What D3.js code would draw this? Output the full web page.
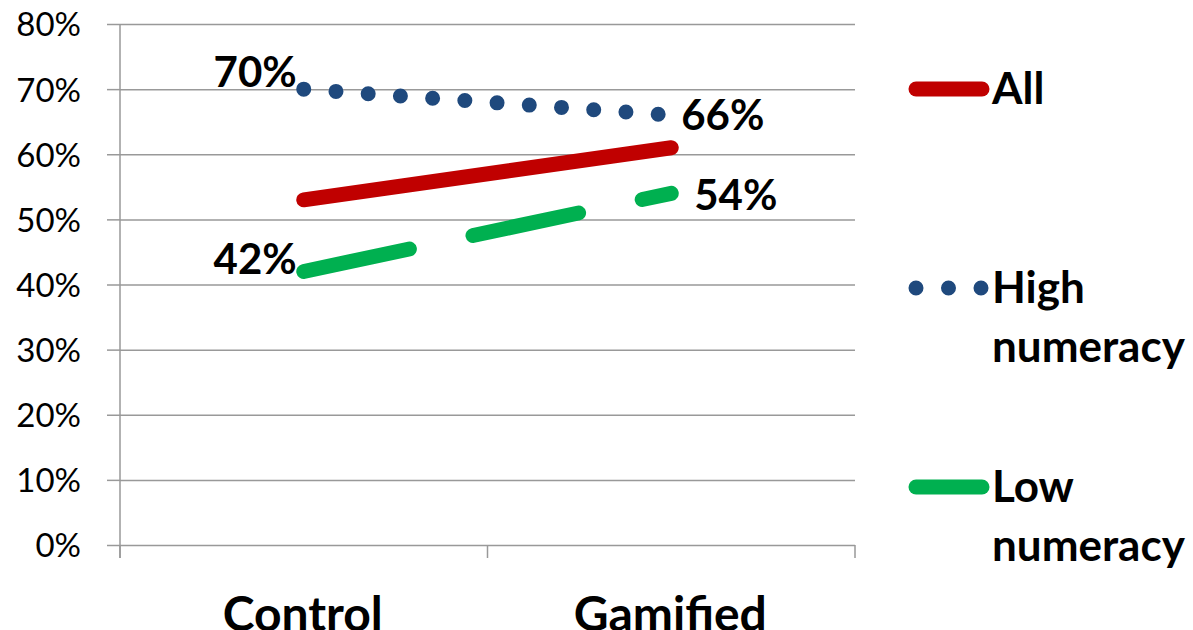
<!DOCTYPE html>
<html>
<head>
<meta charset="utf-8">
<script src="https://cdn.jsdelivr.net/npm/d3@7"></script>
<style>
  html, body { margin: 0; padding: 0; background: #fff; overflow: hidden; }
  svg { display: block; font-family: Lato, "Open Sans", sans-serif; }
</style>
</head>
<body>
<svg id="chart" width="1193" height="630"></svg>
<script>
// Share of correct answers by condition
const categories = ["Control", "Gamified"];
const seriesNames = ["All", "High numeracy", "Low numeracy"];
const allValues = [0.53, 0.61];
const highValues = [0.70, 0.66];
const lowValues = [0.42, 0.54];
const yTicks = [0, 0.1, 0.2, 0.3, 0.4, 0.5, 0.6, 0.7, 0.8];

const svg = d3.select("#chart");
const plotLeft = 120, plotRight = 855, plotTop = 24, plotBottom = 545;

const x = d3.scalePoint().domain(categories).range([plotLeft, plotRight]).padding(0.5);
const y = d3.scaleLinear().domain([0, 0.8]).range([plotBottom, plotTop]);
const pct = d3.format(".0%");
const gridColor = "#999";

// horizontal gridlines with outside tick marks
const yAxis = svg.append("g")
  .attr("transform", `translate(${plotLeft},0)`)
  .call(d3.axisLeft(y).tickValues(yTicks).tickFormat(pct)
        .tickSize(13).tickSizeOuter(0).tickPadding(26));
yAxis.select(".domain").remove();
yAxis.selectAll(".tick line").attr("stroke", gridColor).attr("stroke-width", 1.5);
yAxis.selectAll(".tick").append("line")
  .attr("x1", 0).attr("x2", plotRight - plotLeft)
  .attr("stroke", gridColor).attr("stroke-width", 1.5);
yAxis.selectAll(".tick text")
  .attr("font-family", "Lato, sans-serif")
  .attr("font-size", 33).attr("fill", "#000")
  .attr("dy", "0.36em");

// vertical axis line
svg.append("line")
  .attr("x1", plotLeft).attr("x2", plotLeft).attr("y1", plotTop).attr("y2", plotBottom + 13)
  .attr("stroke", gridColor).attr("stroke-width", 1.5);

// category axis: boundary ticks between bands
const band = d3.scaleBand().domain(categories).range([plotLeft, plotRight]);
const boundaries = [plotLeft, ...categories.slice(1).map(c => band(c)), plotRight];
svg.append("g").selectAll("line").data(boundaries).join("line")
  .attr("x1", d => d).attr("x2", d => d)
  .attr("y1", plotBottom).attr("y2", plotBottom + 13)
  .attr("stroke", gridColor).attr("stroke-width", 1.5);

svg.append("g").selectAll("text").data(categories).join("text")
  .attr("x", d => x(d) - 1).attr("y", 631)
  .attr("text-anchor", "middle")
  .attr("font-size", 48).attr("font-weight", "bold").attr("fill", "#000")
  .text(d => d);

// series lines
const line = d3.line().x((d, i) => x(categories[i])).y(d => y(d));
const styles = [
  { name: seriesNames[0], values: allValues, color: "#C00000", dash: null, legendDash: null },
  { name: seriesNames[1], values: highValues, color: "#1F497D", dash: "0 32.3", legendDash: "0 32.5" },
  { name: seriesNames[2], values: lowValues, color: "#00B050", dash: "108 65", legendDash: null }
];
svg.append("g").selectAll("path").data(styles).join("path")
  .attr("d", d => line(d.values))
  .attr("fill", "none")
  .attr("stroke", d => d.color)
  .attr("stroke-width", 15)
  .attr("stroke-linecap", "round")
  .attr("stroke-dasharray", d => d.dash);

// value labels on the high and low numeracy series
const labels = [
  { v: highValues[0], cat: categories[0], dx: -7, dy: -17, anchor: "end" },
  { v: highValues[1], cat: categories[1], dx: 10, dy: 0, anchor: "start" },
  { v: lowValues[0], cat: categories[0], dx: -7, dy: -13, anchor: "end" },
  { v: lowValues[1], cat: categories[1], dx: 23, dy: 2, anchor: "start" }
];
svg.append("g").selectAll("text").data(labels).join("text")
  .attr("x", d => x(d.cat) + d.dx)
  .attr("y", d => y(d.v) + d.dy)
  .attr("dy", "0.36em")
  .attr("text-anchor", d => d.anchor)
  .attr("font-size", 42).attr("font-weight", "bold").attr("fill", "#000")
  .text(d => pct(d.v));

// legend
const legendY = [89, 288, 487];
const lg = svg.append("g").selectAll("g").data(styles).join("g")
  .attr("transform", (d, i) => `translate(916,${legendY[i]})`);
lg.append("line")
  .attr("x1", 0).attr("x2", 66)
  .attr("stroke", d => d.color).attr("stroke-width", 15)
  .attr("stroke-linecap", "round")
  .attr("stroke-dasharray", d => d.legendDash);
lg.append("text")
  .attr("x", 76).attr("y", 15)
  .attr("font-size", 44).attr("font-weight", "bold").attr("fill", "#000")
  .each(function(d) {
    const words = d.name.split(" ");
    const t = d3.select(this);
    words.forEach((w, i) => {
      t.append("tspan").attr("x", 76).attr("dy", i === 0 ? 0 : 59).text(w);
    });
  });
</script>
</body>
</html>
